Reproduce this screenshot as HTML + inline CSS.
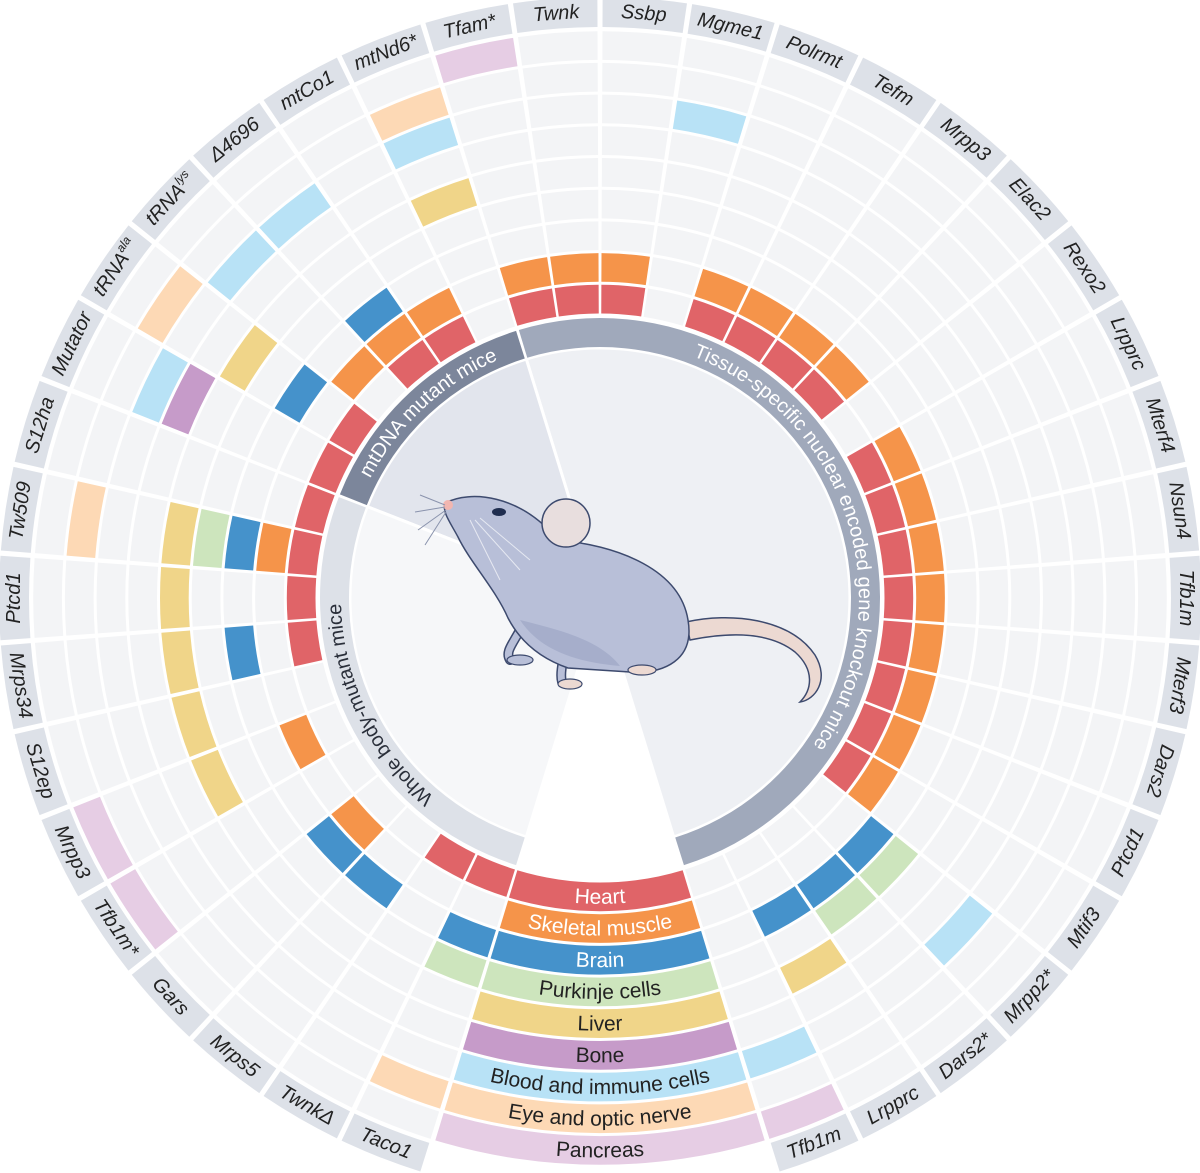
<!DOCTYPE html>
<html><head><meta charset="utf-8"><style>
html,body{margin:0;padding:0;background:#fff;}
svg{display:block;}
</style></head><body>
<svg id="chart" width="1200" height="1173" viewBox="0 0 1200 1173" xmlns="http://www.w3.org/2000/svg">
</svg>
<script>
const genes = ['Ssbp','Mgme1','Polrmt','Tefm','Mrpp3','Elac2','Rexo2','Lrpprc','Mterf4','Nsun4','Tfb1m','Mterf3','Dars2','Ptcd1','Mtif3','Mrpp2*','Dars2*','Lrpprc','Tfb1m','','','','','Taco1','TwnkΔ','Mrps5','Gars','Tfb1m*','Mrpp3','S12ep','Mrps34','Ptcd1','Tw509','S12ha','Mutator','tRNA|ala','tRNA|lys','Δ4696','mtCo1','mtNd6*','Tfam*','Twnk'];
const tissues = ['Heart','Skeletal muscle','Brain','Purkinje cells','Liver','Bone','Blood and immune cells','Eye and optic nerve','Pancreas'];
const tissueColors = ['#e06468','#f5944a','#4592cb','#cde5bd','#f0d589','#c69bc9','#b8e2f6','#fdd9b5','#e6cde4'];
const heartGenes = [0,2,3,4,5,7,8,9,10,11,12,13,14,40,41,38,37,35,34,33,32,31,30,24,23];
const skeletalGenes = [0,2,3,4,5,7,8,9,10,11,12,13,14,40,41,38,37,36,32,28,26];
const brainGenes = [15,16,17,37,35,32,30,26,25,23];
const purkinjeGenes = [15,16,32,23];
const liverGenes = [17,39,35,32,31,30,29,28];
const boneGenes = [34];
const bloodGenes = [1,15,18,39,37,36,34];
const eyeGenes = [39,35,32,23];
const pancreasGenes = [40,18,28,27];
const legendSectors = [19,20,21,22];
const groupNames = ['Tissue-specific nuclear encoded gene knockout mice','mtDNA mutant mice','Whole body-mutant mice'];
const groupStart = [-2,34,23];
const groupEnd = [19,40,34];

const tissueSets = [heartGenes,skeletalGenes,brainGenes,purkinjeGenes,liverGenes,boneGenes,bloodGenes,eyeGenes,pancreasGenes];
const NS = 'http://www.w3.org/2000/svg';
const svg = document.getElementById('chart');
const cx = 600, cy = 598, N = genes.length, step = 360 / N;
const R0 = 283, RW = 31.7, LR0 = 571, LR1 = 601, CR0 = 251, CR1 = 280;
const rIn = i => R0 + i * RW + 1.5, rOut = i => R0 + (i + 1) * RW - 1.5;
const ang = s => s * step;
function P(r, t) { const a = t * Math.PI / 180; return [cx + r * Math.sin(a), cy - r * Math.cos(a)]; }
function annulus(r0, r1, t0, t1) {
  const large = (t1 - t0) > 180 ? 1 : 0;
  const a = P(r1, t0), b = P(r1, t1), c = P(r0, t1), d = P(r0, t0);
  return `M${a[0]},${a[1]} A${r1},${r1} 0 ${large} 1 ${b[0]},${b[1]} L${c[0]},${c[1]} A${r0},${r0} 0 ${large} 0 ${d[0]},${d[1]} Z`;
}
function mk(tag, attrs, parent) {
  const e = document.createElementNS(NS, tag);
  for (const k in attrs) e.setAttribute(k, attrs[k]);
  (parent || svg).appendChild(e);
  return e;
}
const defs = mk('defs', {});

const discFill = ['#eef0f4', '#e2e5ed', '#f6f7f9'];
groupNames.forEach((g, k) => {
  const t0 = ang(groupStart[k]), t1 = ang(groupEnd[k]);
  const a = P(CR0 - 1, t0), b = P(CR0 - 1, t1);
  const large = (t1 - t0) > 180 ? 1 : 0;
  const w = mk('path', { d: `M${cx},${cy} L${a[0]},${a[1]} A${CR0 - 1},${CR0 - 1} 0 ${large} 1 ${b[0]},${b[1]} Z`, fill: discFill[k], stroke: '#fff', 'stroke-width': 3 });
  
  
});

// mouse
const mouse = mk('g', {});


mk('path', { d: 'M686,622 C730,612 790,618 815,655 C830,680 815,700 800,702 C812,690 815,670 795,652 C770,632 730,632 690,640 Z', fill: '#ecd9d2', stroke: '#3d4a6e', 'stroke-width': 1.5 }, mouse);
mk('path', { d: 'M520,630 C512,645 505,652 510,660 M565,650 C562,665 560,675 562,682', stroke: '#3d4a6e', 'stroke-width': 10, 'stroke-linecap': 'round', fill: 'none' }, mouse);
mk('path', { d: 'M520,630 C512,645 505,652 510,660 M565,650 C562,665 560,675 562,682', stroke: '#b8bfd8', 'stroke-width': 7, 'stroke-linecap': 'round', fill: 'none' }, mouse);
mk('path', { d: 'M445,503 C470,490 520,494 558,540 C620,546 680,570 688,620 C695,660 664,674 630,672 L568,668 C545,660 522,645 508,618 C496,590 470,562 458,537 C450,522 442,512 445,503 Z', fill: '#b8bfd8', stroke: '#3d4a6e', 'stroke-width': 1.5 }, mouse);
mk('path', { d: 'M520,620 C540,650 575,662 620,666 C600,640 560,630 520,620 Z', fill: '#9aa3c3', opacity: 0.6 }, mouse);
mk('circle', { cx: 566, cy: 523, r: 24, fill: '#e8dede', stroke: '#3d4a6e', 'stroke-width': 1.5 }, mouse);
mk('ellipse', { cx: 499, cy: 512, rx: 7, ry: 4, fill: '#1f2d4f' }, mouse);
mk('circle', { cx: 448, cy: 505, r: 5, fill: '#f2b6b0' }, mouse);
mk('path', { d: 'M445,505 L420,495 M445,507 L415,512 M446,510 L418,530 M446,512 L425,545', stroke: '#8a93ad', 'stroke-width': 1, fill: 'none' }, mouse);
mk('path', { d: 'M470,520 L500,580 M475,520 L520,570 M480,518 L530,560', stroke: '#e6e9f2', 'stroke-width': 1, fill: 'none' }, mouse);
mk('ellipse', { cx: 520, cy: 660, rx: 13, ry: 5, fill: '#b8bfd8', stroke: '#3d4a6e', 'stroke-width': 1.2 }, mouse);
mk('ellipse', { cx: 570, cy: 684, rx: 12, ry: 5, fill: '#ecd9d2', stroke: '#3d4a6e', 'stroke-width': 1.2 }, mouse);
mk('ellipse', { cx: 642, cy: 670, rx: 14, ry: 5, fill: '#ecd9d2', stroke: '#3d4a6e', 'stroke-width': 1.2 }, mouse);

// category ring
const catFill = ['#a0a9bb', '#7c869b', '#dde1e8'];
const catText = ['#ffffff', '#ffffff', '#2a2f3a'];
groupNames.forEach((g, k) => {
  const t0 = ang(groupStart[k]), t1 = ang(groupEnd[k]);
  const seg = mk('path', { d: annulus(CR0, CR1, t0 + 0.3, t1 - 0.3), fill: catFill[k] });
  
  
  const rr = 259, a = P(rr, t0), b = P(rr, t1);
  mk('path', { id: 'gp' + k, d: `M${a[0]},${a[1]} A${rr},${rr} 0 ${(t1 - t0) > 180 ? 1 : 0} 1 ${b[0]},${b[1]}`, fill: 'none' }, defs);
  const tx = mk('text', { 'font-family': '"Liberation Sans", sans-serif', 'font-size': 20, fill: catText[k] });
  
  
  const tp = mk('textPath', { href: '#gp' + k, startOffset: '50%', 'text-anchor': 'middle' }, tx);
  tp.textContent = g;
});

// data cells
for (let s = 0; s < N; s++) {
  if (legendSectors.includes(s)) continue;
  const t0 = ang(s), t1 = ang(s + 1);
  for (let i = 0; i < tissues.length; i++) {
    const on = tissueSets[i].includes(s);
    const c = mk('path', { d: annulus(rIn(i), rOut(i), t0 + 0.25, t1 - 0.25), fill: on ? tissueColors[i] : '#f3f4f6' });
    
    
  }
  const lab = mk('path', { d: annulus(LR0, LR1, t0 + 0.25, t1 - 0.25), fill: '#dde1e8' });
  
  
  const tc = (t0 + t1) / 2, p = P(586, tc);
  const flip = tc > 110 && tc < 265;
  const rot = flip ? tc - 180 : tc;
  const tx = mk('text', { x: p[0], y: p[1], transform: `rotate(${rot} ${p[0]} ${p[1]})`, 'text-anchor': 'middle', 'dominant-baseline': 'central', 'font-family': '"Liberation Sans", sans-serif', 'font-style': 'italic', 'font-size': 20, fill: '#222' });
  
  
  const parts = genes[s].split('|');
  const t1s = mk('tspan', {}, tx); t1s.textContent = parts[0];
  if (parts[1]) { const sup = mk('tspan', { 'font-size': 12, dy: -7 }, tx); sup.textContent = parts[1]; }
}

// legend bands
const lt0 = ang(legendSectors[0]), lt1 = ang(legendSectors[legendSectors.length - 1] + 1);
const darkTxt = [true, true, true, false, false, false, false, false, false];
tissues.forEach((name, i) => {
  const band = mk('path', { d: annulus(rIn(i), rOut(i), lt0 + 0.25, lt1 - 0.25), fill: tissueColors[i] });
  
  
  const rr = (rIn(i) + rOut(i)) / 2 + 7, a = P(rr, lt1), b = P(rr, lt0);
  mk('path', { id: 'lp' + i, d: `M${a[0]},${a[1]} A${rr},${rr} 0 0 0 ${b[0]},${b[1]}`, fill: 'none' }, defs);
  const tx = mk('text', { 'font-family': '"Liberation Sans", sans-serif', 'font-size': 21, fill: darkTxt[i] ? '#ffffff' : '#222' });
  
  
  const tp = mk('textPath', { href: '#lp' + i, startOffset: '50%', 'text-anchor': 'middle' }, tx);
  tp.textContent = name;
});
</script>
</body></html>
